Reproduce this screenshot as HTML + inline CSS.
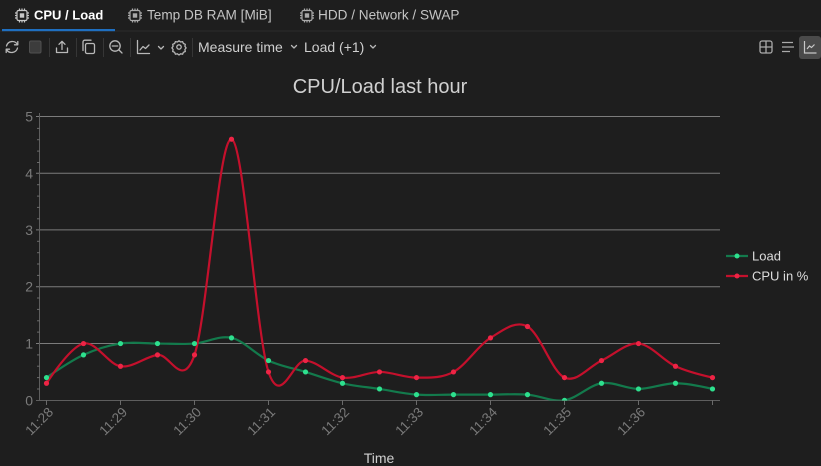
<!DOCTYPE html>
<html><head><meta charset="utf-8">
<style>
html,body{margin:0;padding:0;background:#1e1e1e;width:821px;height:466px;overflow:hidden;font-family:"Liberation Sans",sans-serif;}
svg{display:block}
</style></head>
<body>
<svg width="821" height="466" viewBox="0 0 821 466" xmlns="http://www.w3.org/2000/svg">
<rect x="0" y="0" width="821" height="466" fill="#1e1e1e"/>
<!-- tab bar -->
<line x1="0" y1="31" x2="821" y2="31" stroke="#2c2c2c" stroke-width="1"/>
<rect x="2" y="29" width="113" height="2.2" fill="#1f6fc0"/>
<g fill="none" stroke="#c8c8c8" stroke-width="1.2">
  <rect x="17" y="10.5" width="10" height="10" rx="1.5"/><rect x="19.8" y="13.3" width="4.4" height="4.4" fill="#c8c8c8" stroke="none"/>
  <path d="M15 13h2M15 15.5h2M15 18h2M27 13h2M27 15.5h2M27 18h2M19.5 8.5v2M22 8.5v2M24.5 8.5v2M19.5 20.5v2M22 20.5v2M24.5 20.5v2"/>
</g>
<g fill="none" stroke="#aaaaaa" stroke-width="1.2">
  <rect x="130" y="10.5" width="10" height="10" rx="1.5"/><rect x="132.8" y="13.3" width="4.4" height="4.4" fill="#aaaaaa" stroke="none"/>
  <path d="M128 13h2M128 15.5h2M128 18h2M140 13h2M140 15.5h2M140 18h2M132.5 8.5v2M135 8.5v2M137.5 8.5v2M132.5 20.5v2M135 20.5v2M137.5 20.5v2"/>
  <rect x="302" y="10.5" width="10" height="10" rx="1.5"/><rect x="304.8" y="13.3" width="4.4" height="4.4" fill="#aaaaaa" stroke="none"/>
  <path d="M300 13h2M300 15.5h2M300 18h2M312 13h2M312 15.5h2M312 18h2M304.5 8.5v2M307 8.5v2M309.5 8.5v2M304.5 20.5v2M307 20.5v2M309.5 20.5v2"/>
</g>
<text x="34" y="19.5" font-size="13" font-weight="bold" fill="#ffffff">CPU / Load</text>
<text x="147" y="19.5" font-size="13.6" fill="#c4c4c4">Temp DB RAM [MiB]</text>
<text x="318" y="19.5" font-size="13.6" fill="#c4c4c4">HDD / Network / SWAP</text>

<!-- toolbar -->
<g fill="none" stroke="#b8b8b8" stroke-width="1.3" stroke-linecap="round" stroke-linejoin="round">
  <path d="M17.5 44.5a6 6 0 0 0-11 1.5M6.5 49.5a6 6 0 0 0 11-1.5"/>
  <path d="M17.8 41.5v3.3h-3.3M6.2 52.5v-3.3h3.3"/>
  <path d="M56.5 48v4.5h11V48M62 49.5V41.5M59 44.3l3-3 3 3"/>
  <rect x="85.5" y="43.5" width="9" height="10" rx="1.5"/><path d="M83 50.5V42a1.8 1.8 0 0 1 1.8-1.8H91"/>
  <circle cx="115" cy="46" r="5.2"/><path d="M112.3 46h5.4M119 50l3 3"/>
  <path d="M137.5 40.5v13h12M140 50l3-3.5 2.5 2 3.5-3.5"/>
  <path d="M158.5 46.5l2.5 2.5 2.5-2.5"/>
  <circle cx="179" cy="47" r="2.2"/>
  <path d="M179 40.8l1.6 1.2 2-.4.8 1.9 1.9.8-.4 2 1.2 1.6-1.2 1.6.4 2-1.9.8-.8 1.9-2-.4-1.6 1.2-1.6-1.2-2 .4-.8-1.9-1.9-.8.4-2-1.2-1.6 1.2-1.6-.4-2 1.9-.8.8-1.9 2 .4z"/>
  <path d="M291.5 45.5l2.5 2.5 2.5-2.5M370.5 45.5l2.5 2.5 2.5-2.5"/>
</g>
<rect x="29.5" y="41" width="11.5" height="12" rx="1.5" fill="#3c3c3c" stroke="#505050"/>
<g stroke="#363636" stroke-width="1">
  <line x1="49.5" y1="38" x2="49.5" y2="57"/><line x1="76.5" y1="38" x2="76.5" y2="57"/>
  <line x1="103.5" y1="38" x2="103.5" y2="57"/><line x1="130.5" y1="38" x2="130.5" y2="57"/>
  <line x1="192.5" y1="38" x2="192.5" y2="57"/>
</g>
<text x="198" y="52" font-size="14" fill="#cfcfcf">Measure time</text>
<text x="304" y="52" font-size="14" fill="#cfcfcf">Load (+1)</text>
<!-- right toolbar -->
<g fill="none" stroke="#aaaaaa" stroke-width="1.3">
  <rect x="760" y="41" width="12" height="12" rx="2"/><path d="M760 47h12M766 41v12"/>
  <path d="M782 42.5h11M782 47h12M782 51.5h8"/>
</g>
<rect x="799" y="36" width="22" height="23" rx="3" fill="#4a4a4a"/>
<g fill="none" stroke="#c8c8c8" stroke-width="1.2"><path d="M804.5 41v12h12M807 49l2.5-3 2 1.5 3-3"/></g>

<!-- chart -->
<text x="380" y="93" font-size="20" fill="#d0d0d0" text-anchor="middle">CPU/Load last hour</text>
<g stroke="#7c7c7c" stroke-width="1">
  <line x1="36" y1="116.5" x2="720" y2="116.5"/>
  <line x1="36" y1="173.3" x2="720" y2="173.3"/>
  <line x1="36" y1="229.9" x2="720" y2="229.9"/>
  <line x1="36" y1="286.7" x2="720" y2="286.7"/>
  <line x1="36" y1="343.5" x2="720" y2="343.5"/>
</g>
<g stroke="#5e5e5e" stroke-width="1">
  <line x1="36" y1="400.5" x2="720" y2="400.5"/>
  <line x1="39.5" y1="113" x2="39.5" y2="400.5"/>
</g>
<g stroke="#6a6a6a" stroke-width="1">
  <line x1="37" x2="40" y1="128.4" y2="128.4"/><line x1="37" x2="40" y1="139.7" y2="139.7"/><line x1="37" x2="40" y1="151.1" y2="151.1"/><line x1="37" x2="40" y1="162.5" y2="162.5"/>
  <line x1="37" x2="40" y1="184.7" y2="184.7"/><line x1="37" x2="40" y1="196.1" y2="196.1"/><line x1="37" x2="40" y1="207.4" y2="207.4"/><line x1="37" x2="40" y1="218.8" y2="218.8"/>
  <line x1="37" x2="40" y1="241.3" y2="241.3"/><line x1="37" x2="40" y1="252.7" y2="252.7"/><line x1="37" x2="40" y1="264" y2="264"/><line x1="37" x2="40" y1="275.4" y2="275.4"/>
  <line x1="37" x2="40" y1="298" y2="298"/><line x1="37" x2="40" y1="309.4" y2="309.4"/><line x1="37" x2="40" y1="320.8" y2="320.8"/><line x1="37" x2="40" y1="332.1" y2="332.1"/>
  <line x1="37" x2="40" y1="354.9" y2="354.9"/><line x1="37" x2="40" y1="366.2" y2="366.2"/><line x1="37" x2="40" y1="377.6" y2="377.6"/><line x1="37" x2="40" y1="389" y2="389"/>
  <line x1="46.5" x2="46.5" y1="400" y2="405"/><line x1="120.5" x2="120.5" y1="400" y2="405"/><line x1="194.5" x2="194.5" y1="400" y2="405"/><line x1="268.5" x2="268.5" y1="400" y2="405"/>
  <line x1="342.5" x2="342.5" y1="400" y2="405"/><line x1="416.5" x2="416.5" y1="400" y2="405"/><line x1="490.5" x2="490.5" y1="400" y2="405"/><line x1="564.5" x2="564.5" y1="400" y2="405"/>
  <line x1="638.5" x2="638.5" y1="400" y2="405"/><line x1="712.5" x2="712.5" y1="400" y2="405"/>
</g>
<g font-size="14" fill="#7a7a7a" text-anchor="end">
  <text x="33" y="121.5">5</text><text x="33" y="178.3">4</text><text x="33" y="235">3</text>
  <text x="33" y="291.7">2</text><text x="33" y="348.5">1</text><text x="33" y="405.5">0</text>
</g>
<g font-size="13.5" fill="#7a7a7a" text-anchor="end">
  <text transform="translate(54,413) rotate(-45)">11:28</text>
  <text transform="translate(128,413) rotate(-45)">11:29</text>
  <text transform="translate(202,413) rotate(-45)">11:30</text>
  <text transform="translate(276,413) rotate(-45)">11:31</text>
  <text transform="translate(350,413) rotate(-45)">11:32</text>
  <text transform="translate(424,413) rotate(-45)">11:33</text>
  <text transform="translate(498,413) rotate(-45)">11:34</text>
  <text transform="translate(572,413) rotate(-45)">11:35</text>
  <text transform="translate(646,413) rotate(-45)">11:36</text>
</g>
<text x="379" y="463" font-size="14" fill="#d0d0d0" text-anchor="middle">Time</text>

<defs><clipPath id="pc"><rect x="40" y="100" width="680" height="300.5"/></clipPath></defs>
<g clip-path="url(#pc)">
  <path id="gline" fill="none" stroke="#137a4c" stroke-width="2.2"/>
  <path id="rline" fill="none" stroke="#c4102c" stroke-width="2.2"/>
  <g id="gpts" fill="#2ee08e"></g>
  <g id="rpts" fill="#ee2445"></g>
</g>

<!-- legend -->
<line x1="726" y1="256" x2="748" y2="256" stroke="#137a4c" stroke-width="2.2"/>
<circle cx="737" cy="256" r="2.5" fill="#2ee08e"/>
<line x1="726" y1="276" x2="748" y2="276" stroke="#c4102c" stroke-width="2.2"/>
<circle cx="737" cy="276" r="2.5" fill="#ee2445"/>
<text x="752" y="260.5" font-size="13" fill="#dcdcdc">Load</text>
<text x="752" y="280.5" font-size="13" fill="#dcdcdc">CPU in %</text>
</svg>
<script>
(function(){
  var load=[0.4,0.8,1.0,1.0,1.0,1.1,0.7,0.5,0.3,0.2,0.1,0.1,0.1,0.1,0.0,0.3,0.2,0.3,0.2];
  var cpu=[0.3,1.0,0.6,0.8,0.8,4.6,0.5,0.7,0.4,0.5,0.4,0.5,1.1,1.3,0.4,0.7,1.0,0.6,0.4];
  function px(i){return 46.5+37*i;}
  function py(v){return 400.3-56.76*v;}
  function path(vals){
    var pts=vals.map(function(v,i){return [px(i),py(v)];});
    var n=pts.length,k=1/6;
    var f=function(p){return p[0].toFixed(2)+','+p[1].toFixed(2);};
    var tg=[];
    for(var i=0;i<n;i++){
      var p=pts[Math.max(0,i-1)],q=pts[Math.min(n-1,i+1)];
      var dx=(q[0]-p[0])*k,dy=(q[1]-p[1])*k;
      if(i==0||i==n-1){dx*=1;dy*=1;}
      tg.push([[pts[i][0]-dx,pts[i][1]-dy],[pts[i][0]+dx,pts[i][1]+dy]]);
    }
    var d='M'+f(pts[0])+'Q'+f(tg[1][0])+' '+f(pts[1]);
    for(var i=2;i<n-1;i++)d+='C'+f(tg[i-1][1])+' '+f(tg[i][0])+' '+f(pts[i]);
    d+='Q'+f(tg[n-2][1])+' '+f(pts[n-1]);
    return {d:d,pts:pts};
  }
  var ns='http://www.w3.org/2000/svg';
  function draw(vals,lineId,ptsId){
    var r=path(vals);
    document.getElementById(lineId).setAttribute('d',r.d);
    var g=document.getElementById(ptsId);
    r.pts.forEach(function(p){var c=document.createElementNS(ns,'circle');c.setAttribute('cx',p[0]);c.setAttribute('cy',p[1]);c.setAttribute('r','2.6');g.appendChild(c);});
  }
  draw(load,'gline','gpts');
  draw(cpu,'rline','rpts');
})();
</script>
</body></html>
